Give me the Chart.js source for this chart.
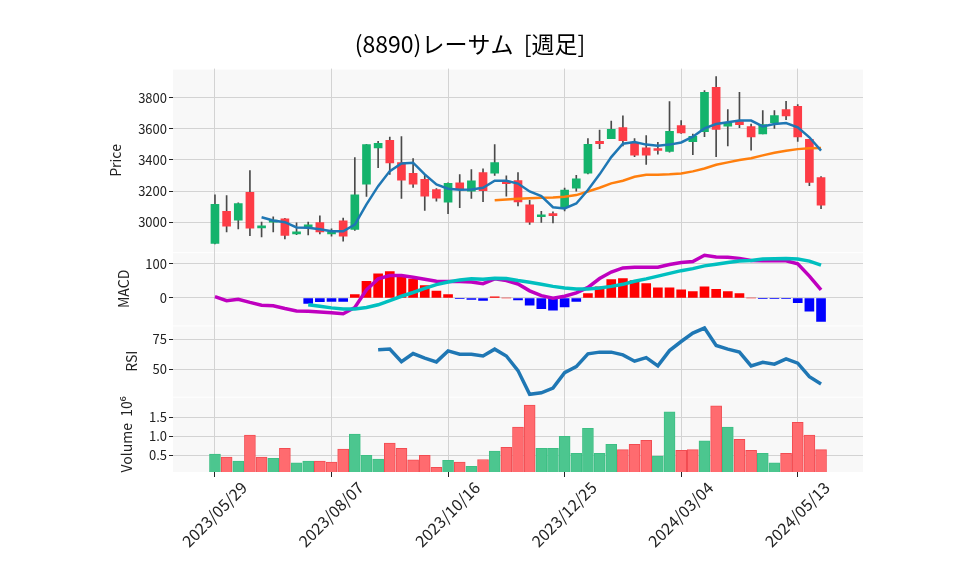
<!DOCTYPE html>
<html>
<head>
<meta charset="utf-8">
<title>(8890)レーサム [週足]</title>
<script src="https://cdn.jsdelivr.net/npm/chart.js@4/dist/chart.umd.min.js"></script>
<style>
    html, body { margin: 0; padding: 0; background: #ffffff; }
</style>
</head>
<body>
<canvas id="chart" width="958" height="575"></canvas>
<script>
"use strict";

const TITLE = "(8890)レーサム  [週足]";

// weekly bars, index 0 = 2023/05/29
const TICK_IDX = [0, 10, 20, 30, 40, 50];
const TICK_LABELS = ["2023/05/29", "2023/08/07", "2023/10/16", "2023/12/25", "2024/03/04", "2024/05/13"];

const OPEN  = [2863, 3069, 3013, 3191, 2963, 3000, 3022, 2925, 2970, 2998, 2925, 3009, 2953, 3244, 3476, 3525, 3382, 3313, 3275, 3210,
               3129, 3253, 3199, 3318, 3315, 3264, 3267, 3112, 3035, 3048, 3093, 3219, 3315, 3519, 3536, 3607, 3508, 3478, 3466, 3455,
               3620, 3517, 3581, 3865, 3617, 3646, 3613, 3566, 3639, 3723, 3744, 3532, 3287];
const HIGH  = [3176, 3170, 3125, 3332, 3000, 3035, 3025, 2996, 3000, 3041, 2957, 3026, 3414, 3500, 3519, 3547, 3549, 3408, 3300, 3215,
               3252, 3305, 3337, 3343, 3498, 3298, 3318, 3141, 3069, 3067, 3219, 3300, 3536, 3591, 3649, 3682, 3536, 3556, 3512, 3774,
               3652, 3566, 3845, 3935, 3723, 3834, 3630, 3716, 3716, 3776, 3755, 3532, 3292];
const LOW   = [2860, 2938, 2957, 2914, 2906, 2938, 2893, 2920, 2918, 2925, 2910, 2878, 2947, 3165, 3350, 3307, 3152, 3223, 3075, 3135,
               3054, 3093, 3152, 3131, 3300, 3167, 3104, 2985, 2998, 2996, 3073, 3199, 3310, 3472, 3536, 3489, 3420, 3371, 3437, 3450,
               3570, 3433, 3549, 3420, 3489, 3607, 3463, 3566, 3602, 3658, 3519, 3234, 3086];
const CLOSE = [3114, 2974, 3120, 2961, 2968, 3000, 2915, 2937, 2975, 2937, 2933, 2910, 3176, 3498, 3506, 3380, 3270, 3244, 3167, 3154,
               3249, 3210, 3266, 3202, 3382, 3247, 3130, 3000, 3042, 3042, 3206, 3279, 3500, 3504, 3596, 3523, 3431, 3431, 3460, 3583,
               3573, 3551, 3834, 3595, 3637, 3626, 3547, 3626, 3684, 3682, 3547, 3256, 3109];

const MA5 = [null, null, null, null, 3032, 3011, 3000, 2966, 2964, 2955, 2942, 2942, 2985, 3114, 3231, 3328, 3377, 3382, 3307, 3242,
             3215, 3208, 3210, 3221, 3266, 3266, 3248, 3197, 3167, 3096, 3088, 3120, 3206, 3307, 3418, 3504, 3514, 3498, 3491, 3498,
             3512, 3549, 3602, 3630, 3641, 3652, 3652, 3615, 3630, 3637, 3609, 3545, 3459];
const MA25 = [null, null, null, null, null, null, null, null, null, null, null, null, null, null, null, null, null, null, null, null,
              null, null, null, null, 3141, 3146, 3150, 3154, 3157, 3159, 3163, 3174, 3197, 3221, 3249, 3266, 3292, 3305, 3305, 3307,
              3313, 3326, 3345, 3369, 3384, 3399, 3410, 3429, 3446, 3459, 3469, 3474, 3476];

const MACD   = [4, -8, -4, -13, -21, -23, -31, -38, -39, -41, -43, -46, -28, 24, 56, 66, 66, 61, 55, 49,
                48, 48, 47, 42, 56, 51, 41, 21, 7, -1, 5, 15, 31, 57, 76, 88, 90, 90, 90, 98,
                104, 107, 125, 120, 119, 116, 110, 109, 109, 109, 100, 64, 24];
const SIGNAL = [null, null, null, null, null, null, null, null, -20, -24, -29, -32, -32, -28, -20, -8, 5, 16, 28, 39,
                47, 53, 56, 55, 58, 57, 51, 46, 40, 34, 29, 26, 26, 29, 34, 40, 49, 56, 64, 72,
                80, 86, 94, 99, 104, 108, 110, 114, 115, 116, 114, 108, 96];
const HIST   = [null, null, null, null, null, null, null, null, -16, -11, -10, -10, 10, 49, 71, 77, 64, 55, 36, 20,
                10, -2, -4, -7, 3, 0, -6, -21, -31, -36, -26, -10, 13, 33, 54, 57, 51, 42, 30, 30,
                24, 19, 33, 25, 19, 13, 0, -1, -1, -1, -14, -39, -69];

const RSI = [null, null, null, null, null, null, null, null, null, null, null, null, null, null, 66.1, 66.7, 56.3, 63.0, 59.2, 56.1,
             65.2, 62.5, 62.5, 61.0, 66.7, 61.0, 48.9, 29.2, 30.5, 34.4, 47.2, 52.2, 62.8, 64.2, 64.2, 61.9, 56.7, 59.7, 52.8, 65.5,
             73.0, 80.0, 84.2, 69.7, 66.7, 64.2, 52.8, 55.8, 54.2, 58.6, 55.0, 43.8, 37.8];

// millions of shares
const VOLUME = [0.53, 0.45, 0.35, 1.03, 0.45, 0.42, 0.68, 0.30, 0.35, 0.35, 0.32, 0.66, 1.06, 0.50, 0.40, 0.82, 0.68, 0.38, 0.50, 0.18,
                0.37, 0.32, 0.21, 0.39, 0.61, 0.71, 1.24, 1.82, 0.68, 0.68, 1.00, 0.55, 1.21, 0.55, 0.79, 0.65, 0.79, 0.89, 0.48, 1.64,
                0.63, 0.65, 0.88, 1.80, 1.24, 0.92, 0.63, 0.55, 0.30, 0.55, 1.37, 1.03, 0.65];
const VOLUME_UP = [1, 0, 1, 0, 0, 1, 0, 1, 1, 0, 0, 0, 1, 1, 1, 0, 0, 0, 0, 0,
                   1, 0, 1, 0, 1, 0, 0, 0, 1, 1, 1, 1, 1, 1, 1, 0, 0, 0, 1, 1,
                   0, 0, 1, 0, 1, 0, 0, 1, 1, 0, 0, 0, 0];

const PRICE_TICKS = [3000, 3200, 3400, 3600, 3800];
const MACD_TICKS = [0, 100];
const RSI_TICKS = [50, 75];
const VOLUME_TICKS = [0.5, 1.0, 1.5];

const UP = "#14b36c";
const DOWN = "#fd3c46";
const AXIS_W = 96;
const FONT = "'Noto Sans CJK JP', 'Noto Sans', sans-serif";
const TEXT = "#222222";
const GRID = "#d3d3d3";

function points(values)
{
    const out = [];
    values.forEach((v, i) => {
        if (v !== null)
            out.push({x: i, y: v});
    });
    return out;
}

function ranges(from, to)
{
    return from.map((v, i) => ({x: i, y: [v, to[i]]}));
}

function panelAxis(title, titlePad, min, max, ticks, weight, fmt)
{
    return {
        type: "linear",
        position: "left",
        stack: "panels",
        stackWeight: weight,
        min: min,
        max: max,
        afterBuildTicks: axis => { axis.ticks = ticks.map(v => ({value: v})); },
        afterFit: axis => { axis.width = AXIS_W; },
        ticks: {font: {family: FONT, size: 13}, color: TEXT, padding: 2, callback: fmt},
        grid: {color: GRID, tickColor: TEXT, tickLength: 4},
        border: {display: false},
        title: {display: true, text: title, color: TEXT, font: {family: FONT, size: 14},
                padding: {top: titlePad, bottom: 0}}
    };
}

function lineSet(label, values, color, width, axis)
{
    return {
        type: "line",
        label: label,
        data: points(values),
        borderColor: color,
        borderWidth: width,
        pointRadius: 0,
        tension: 0,
        fill: false,
        yAxisID: axis,
        order: 0
    };
}

const panelBackground = {
    id: "panelBackground",
    beforeDraw(chart) {
        const {ctx, chartArea} = chart;
        ctx.save();
        ctx.fillStyle = "#f8f8f8";
        ["yPrice", "yMacd", "yRsi", "yVol"].forEach(id => {
            const s = chart.scales[id];
            ctx.fillRect(chartArea.left, s.top + 1, chartArea.right - chartArea.left, s.bottom - s.top - 1);
        });
        ctx.restore();
    }
};

const candleColors = OPEN.map((o, i) => CLOSE[i] >= o ? UP : DOWN);
const histPoints = points(HIST);

new Chart("chart", {
    type: "bar",
    data: {
        datasets: [
            lineSet("MA5", MA5, "#1f77b4", 2.5, "yPrice"),
            lineSet("MA25", MA25, "#ff7f0e", 2.5, "yPrice"),
            {
                label: "body",
                data: ranges(OPEN, CLOSE),
                backgroundColor: candleColors,
                barThickness: 8,
                minBarLength: 2,
                grouped: false,
                yAxisID: "yPrice",
                order: 1
            },
            {
                label: "wick",
                data: ranges(LOW, HIGH),
                backgroundColor: "#4a4a4a",
                barThickness: 1,
                grouped: false,
                yAxisID: "yPrice",
                order: 2
            },
            lineSet("Signal", SIGNAL, "#00bfbf", 3.5, "yMacd"),
            lineSet("MACD", MACD, "#bf00bf", 3.5, "yMacd"),
            {
                label: "hist",
                data: histPoints,
                backgroundColor: histPoints.map(p => p.y >= 0 ? "#ff0000" : "#0000ff"),
                barThickness: 9,
                grouped: false,
                yAxisID: "yMacd",
                order: 3
            },
            lineSet("RSI", RSI, "#1f77b4", 3.5, "yRsi"),
            {
                label: "Volume",
                data: points(VOLUME),
                backgroundColor: VOLUME_UP.map(u => u ? "#4cc68f" : "#ff6b6f"),
                borderColor: VOLUME_UP.map(u => u ? "#3dbf84" : "#f24c52"),
                borderWidth: 1,
                borderSkipped: false,
                barThickness: 11,
                grouped: false,
                yAxisID: "yVol",
                order: 3
            }
        ]
    },
    options: {
        responsive: false,
        animation: false,
        layout: {padding: {left: 77, right: 95, top: 0, bottom: 0}},
        plugins: {
            legend: {display: false},
            tooltip: {enabled: false},
            title: {
                display: true,
                text: TITLE,
                color: "#000000",
                font: {family: FONT, size: 23, weight: "normal"},
                padding: {top: 30, bottom: 11}
            }
        },
        scales: {
            yVol: panelAxis("Volume  10\u2076", 41, 0.06, 2.04, VOLUME_TICKS, 75, v => v.toFixed(1)),
            yRsi: panelAxis("RSI", 46, 27.2, 86.3, RSI_TICKS, 71, v => v),
            yMacd: panelAxis("MACD", 38, -80.6, 134, MACD_TICKS, 73, v => v),
            yPrice: panelAxis("Price", 30, 2807, 3986, PRICE_TICKS, 183, v => v),
            x: {
                type: "linear",
                position: "bottom",
                min: -3.6,
                max: 55.6,
                offset: false,
                afterBuildTicks: axis => { axis.ticks = TICK_IDX.map(v => ({value: v})); },
                afterFit: axis => { axis.height = 103; },
                ticks: {
                    font: {family: FONT, size: 16},
                    color: TEXT,
                    minRotation: 45,
                    maxRotation: 45,
                    autoSkip: false,
                    labelOffset: 29,
                    padding: 1,
                    callback: v => TICK_LABELS[TICK_IDX.indexOf(v)]
                },
                grid: {color: GRID, tickColor: TEXT, tickLength: 5, offset: false},
                border: {display: false}
            }
        }
    },
    plugins: [panelBackground]
});
</script>
</body>
</html>
